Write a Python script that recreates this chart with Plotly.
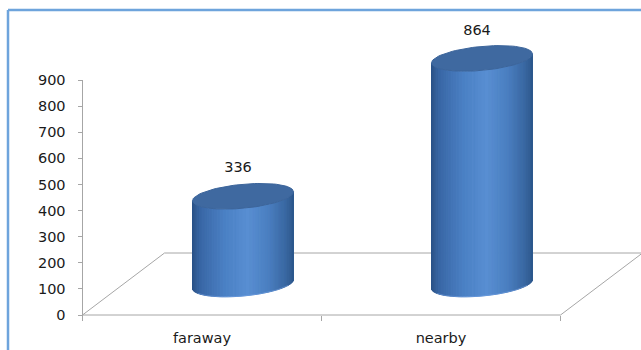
import numpy as np
import plotly.graph_objects as go

# ---------------- data ----------------
categories = ["faraway", "nearby"]
values = [336, 864]
y_ticks = [0, 100, 200, 300, 400, 500, 600, 700, 800, 900]
value_labels = [str(v) for v in values]

# ---------------- geometry / scale set-up ----------------
W, H = 641, 350
X_PX0, X_PX_PER = 202.0, 239.0          # pixel of category 0, pixels per category
Y_PX0, Y_PX_PER = 315.0, 235.0 / 900.0  # pixel of value 0, pixels per value unit
x_range = [(0 - X_PX0) / X_PX_PER, (W - X_PX0) / X_PX_PER]
y_range = [(Y_PX0 - H) / Y_PX_PER, Y_PX0 / Y_PX_PER]

depth_dx = 82.0 / X_PX_PER     # 3D depth offset (x units)
depth_dv = 62.0 / Y_PX_PER     # 3D depth offset (value units)
rx = 50.5 / X_PX_PER           # cylinder radius (x units)
ry = 12.0 / Y_PX_PER           # ellipse half-height (value units)
shear = 4.5 / Y_PX_PER         # perspective tilt of ellipses

AXIS_GREY = "#a6a6a6"
FONT = dict(family="DejaVu Sans", size=14.5, color="#1a1a1a")

stops = [(0.0, (0x2a, 0x52, 0x86)), (0.08, (0x38, 0x66, 0xa4)), (0.3, (0x49, 0x7e, 0xc2)),
         (0.55, (0x58, 0x8e, 0xd2)), (0.75, (0x4a, 0x7f, 0xc1)), (0.92, (0x3a, 0x68, 0xa3)),
         (1.0, (0x2d, 0x58, 0x8e))]


def grad(p):
    for (p0, c0), (p1, c1) in zip(stops[:-1], stops[1:]):
        if p0 <= p <= p1:
            f = (p - p0) / (p1 - p0)
            c = [round(a + (b - a) * f) for a, b in zip(c0, c1)]
            return "rgb(%d,%d,%d)" % tuple(c)
    return "rgb(%d,%d,%d)" % stops[-1][1]


def ell(cx, cv, t):
    return cx + rx * np.cos(t), cv + ry * np.sin(t) + shear * np.cos(t)


fig = go.Figure()

# floor (3D base plane)
n = len(categories)
fx = [-0.5, -0.5 + depth_dx, n - 0.5 + depth_dx, n - 0.5, -0.5]
fy = [0, depth_dv, depth_dv, 0, 0]
fig.add_trace(go.Scatter(x=fx, y=fy, mode="lines", line=dict(color=AXIS_GREY, width=1),
                         hoverinfo="skip"))
# value axis line
fig.add_trace(go.Scatter(x=[-0.5, -0.5], y=[y_ticks[0], y_ticks[-1]], mode="lines",
                         line=dict(color=AXIS_GREY, width=1), hoverinfo="skip"))

# cylinders
N = 48
base_v = depth_dv / 2
for i, v in enumerate(values):
    cx = i + depth_dx / 2
    top_v = base_v + v
    for k in range(N):
        t0 = np.pi + k * np.pi / N
        t1 = np.pi + (k + 1) * np.pi / N
        ts = np.linspace(t0, t1, 4)
        bx, by = ell(cx, base_v, ts)
        tx, ty = ell(cx, top_v, ts[::-1])
        xs = list(bx) + list(tx) + [bx[0]]
        ys = list(by) + list(ty) + [by[0]]
        p = (np.cos((t0 + t1) / 2) + 1) / 2
        c = grad(p)
        fig.add_trace(go.Scatter(x=xs, y=ys, mode="lines", fill="toself", fillcolor=c,
                                 line=dict(color=c, width=1), hoverinfo="skip"))
    # bottom light rim (subtle)
    ts = np.linspace(np.pi * 1.15, np.pi * 1.85, 40)
    bx, by = ell(cx, base_v, ts)
    fig.add_trace(go.Scatter(x=bx, y=by, mode="lines", line=dict(color="rgba(120,165,230,0.45)", width=1),
                             hoverinfo="skip"))
    # top face
    ts = np.linspace(0, 2 * np.pi, 90)
    tx, ty = ell(cx, top_v, ts)
    fig.add_trace(go.Scatter(x=tx, y=ty, mode="lines", fill="toself", fillcolor="#3f69a0",
                             line=dict(color="#3c659b", width=1), hoverinfo="skip"))

# value labels
fig.add_trace(go.Scatter(
    x=[i + depth_dx / 2 - 5.0 / X_PX_PER for i in range(n)],
    y=[base_v + v + 27.5 / Y_PX_PER for v in values],
    mode="text", text=value_labels, textposition="middle center",
    textfont=FONT, hoverinfo="skip", cliponaxis=False))

fig.update_layout(
    width=W, height=H, autosize=False,
    margin=dict(l=0, r=0, t=0, b=0),
    paper_bgcolor="white", plot_bgcolor="white",
    showlegend=False,
    xaxis=dict(range=x_range, domain=[0, 1], anchor="free", position=(H - Y_PX0) / H,
               tickvals=list(range(n)), ticktext=categories, ticks="",
               showgrid=False, zeroline=False, showline=False, tickfont=FONT,
               ticklabelstandoff=12,
               minor=dict(tickvals=[i - 0.5 for i in range(n + 1)], ticks="outside",
                          ticklen=5, tickcolor=AXIS_GREY, tickwidth=1, showgrid=False)),
    yaxis=dict(range=y_range, domain=[0, 1], anchor="free", position=82.5 / W,
               tickvals=y_ticks, ticks="outside", ticklen=5, tickcolor=AXIS_GREY,
               showgrid=False, zeroline=False, showline=False, tickfont=FONT,
               ticklabelstandoff=9),
    shapes=[
        dict(type="line", xref="paper", yref="paper", x0=8 / W, x1=1.1, y0=1 - 10 / H, y1=1 - 10 / H,
             line=dict(color="#6ea4dc", width=2.5)),
        dict(type="line", xref="paper", yref="paper", x0=8 / W, x1=8 / W, y0=1 - 10 / H, y1=-0.1,
             line=dict(color="#6ea4dc", width=2.5)),
    ],
)

fig.write_html("out.html")
